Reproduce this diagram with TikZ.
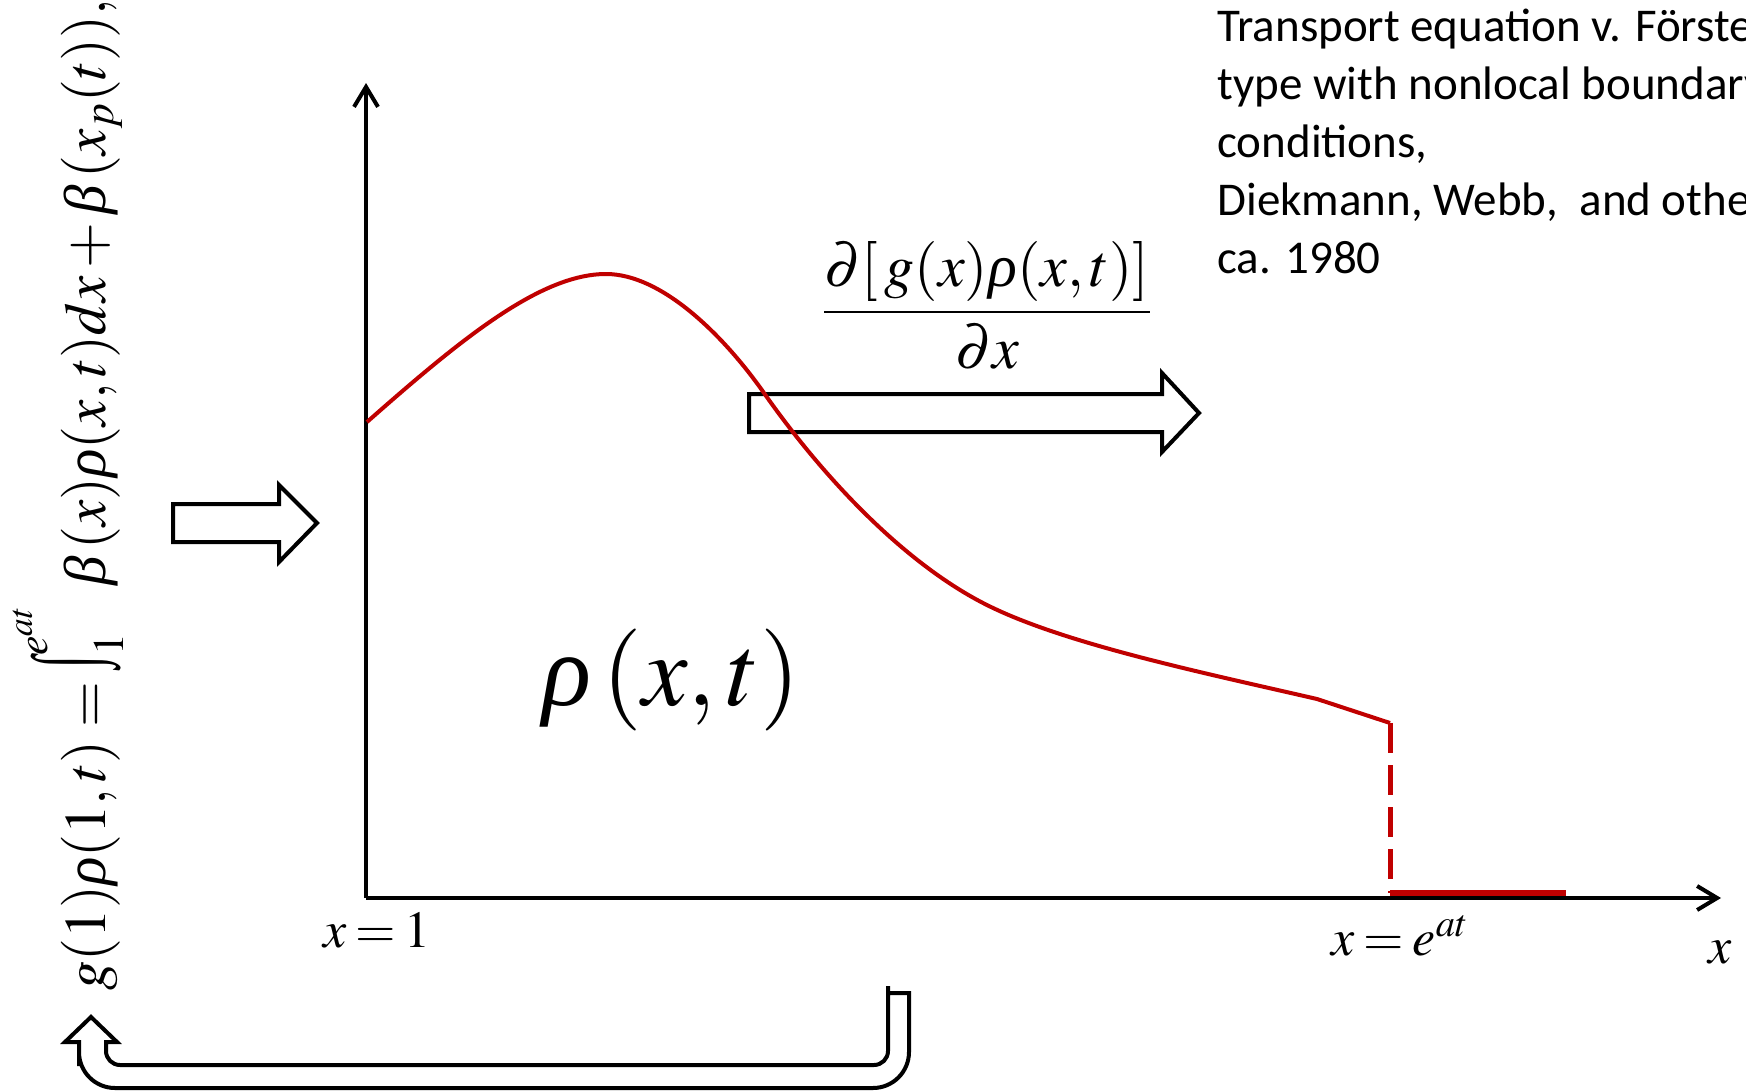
\documentclass[tikz,border=0pt]{standalone}
\usepackage{mathptmx}
\usepackage{graphicx}
\usepackage[no-math]{fontspec}
\newfontfamily\calibri{Carlito}
\newfontfamily\tnr{Liberation Serif}
\newcommand{\grk}[1]{\mbox{\tnr\itshape #1}}
\newcommand{\bigint}{\mathop{\raisebox{-8pt}{\scalebox{0.5}[1]{\resizebox{!}{45pt}{\raisebox{\depth}{\tnr\itshape ∫}}}}}\nolimits}
\newcommand{\tighteq}{\mkern3mu{=}\mkern3mu}
\usetikzlibrary{arrows.meta}
\definecolor{curvered}{RGB}{192,0,0}
\begin{document}
\begin{tikzpicture}[x=0.5pt,y=-0.5pt,
  axisline/.style={line width=2pt,-{Straight Barb[length=10pt,width=12pt]}},
  blockarrow/.style={draw=black,line width=2pt,line join=miter},
  curveline/.style={draw=curvered,line width=2pt},
  mathlbl/.style={inner sep=0pt,anchor=base},
]
\useasboundingbox (0,0) rectangle (1746,1092);
\clip (0,0) rectangle (1746,1092);

% axes
\coordinate (O) at (366,898);
\coordinate (ytip) at (366,83);
\coordinate (xtip) at (1721,898);
\draw[axisline] (O) -- (ytip);
\draw[axisline] (O) -- (xtip);

% block arrows
\draw[blockarrow] (173,504) -- (279,504) -- (279,485) -- (317,523) -- (279,562) -- (279,542) -- (173,542) -- cycle;
\draw[blockarrow] (749,394) -- (1162,394) -- (1162,373) -- (1199,413) -- (1162,452) -- (1162,432) -- (749,432) -- cycle;
\draw[blockarrow] (888,993) -- (909,993) [rounded corners=18pt] -- (909,1088) -- (79,1088) -- (79,1030) [sharp corners] -- (79,1042) -- (65,1042) -- (91,1017) -- (117,1042) -- (106,1042) [rounded corners=7pt] -- (106,1065) -- (888,1065) -- (888,1000) [sharp corners] -- (888,993) -- cycle;

% red curve
\coordinate (c0) at (367,422);
\coordinate (peak) at (606,274);
\coordinate (infl) at (764,393);
\coordinate (c3) at (983,603);
\coordinate (kink) at (1317,699);
\coordinate (cend) at (1390,723);
\coordinate (cfoot) at (1390,893);
\coordinate (cright) at (1566,893);
\draw[curveline] (c0) .. controls (460,340) and (540,274) .. (peak)
  .. controls (662,274) and (724,336) .. (infl)
  .. controls (820,473) and (900,560) .. (c3)
  .. controls (1060,643) and (1200,672) .. (kink) -- (cend);
\draw[curvered,line width=2.5pt,dash pattern=on 15pt off 6pt] (cend) -- (cfoot);
\draw[curvered,line width=2.7pt] (cfoot) -- (cright);

% labels
\node[mathlbl] (rho) at (671,705) {\fontsize{51}{60}\selectfont $\grk{ρ}\,(x,t)$};
\node[mathlbl] (flux) at (987,327) {\fontsize{30}{36}\selectfont $\displaystyle\frac{\partial[\,g(x)\grk{ρ}(x,t)]}{\partial x}$};
\node[mathlbl] (xone) at (377,947) {\fontsize{26}{31}\selectfont $x\tighteq 1$};
\node[mathlbl] (xend) at (1400,955) {\fontsize{26}{31}\selectfont $x\tighteq e^{at}$};
\node[mathlbl] (xlab) at (1720,963) {\fontsize{26}{31}\selectfont $x$};
\node[inner sep=0pt,anchor=base west,rotate=90] (bc) at (105,991) {\fontsize{29.5}{35}\selectfont $g(1)\grk{ρ}(1,t)=\bigint_1^{e^{at}}\;\grk{β}\,(x)\grk{ρ}(x,t)dx+\grk{β}\,(x_p(t)),$};

\node[inner sep=0pt,anchor=base west,align=left,font=\calibri\fontsize{23.5}{29}\selectfont] (note) at (1217,273) {Transport equation v. Förster\\type with nonlocal boundary\\conditions,\\Diekmann, Webb,\ \ and others\\ca. 1980};
\end{tikzpicture}
\end{document}
